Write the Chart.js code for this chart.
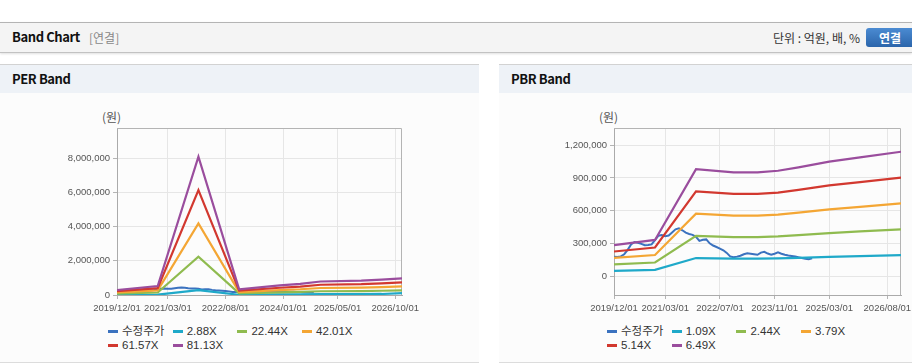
<!DOCTYPE html>
<html>
<head>
<meta charset="utf-8">
<script src="https://cdn.jsdelivr.net/npm/chart.js@4.4.1/dist/chart.umd.min.js"></script>
<style>
html, body { margin: 0; padding: 0; }
body { width: 912px; height: 364px; overflow: hidden; position: relative; background: #fff;
       font-family: "Liberation Sans", Arial, "Noto Sans CJK KR", sans-serif; color: #222; }
.topbar { position: absolute; left: 0; top: 22px; width: 912px; height: 29px; background: #f4f4f4;
          border-top: 1px solid #b4b4b4; border-bottom: 1px solid #c2c2c2; box-shadow: 0 1px 2px rgba(0,0,0,.12); }
.topbar .ttl { position: absolute; left: 12px; top: 6px; font: bold 13px/16px "Noto Sans CJK KR", sans-serif;
               letter-spacing: -0.4px; color: #111; }
.topbar .sub { position: absolute; left: 89px; top: 7px; font: 12px/15px "Noto Sans CJK KR", sans-serif; color: #888; }
.topbar .unit { position: absolute; right: 52px; top: 7px; font: 12px/15px "Noto Sans CJK KR", sans-serif; color: #333; }
.topbar .btn { position: absolute; left: 866px; top: 5px; width: 48px; height: 19px; border-radius: 3px;
               background: linear-gradient(#4b8bd2, #2b65ab); color: #fff; text-align: center;
               font: bold 12px/19px "Noto Sans CJK KR", sans-serif; }
.panel { position: absolute; top: 64px; width: 479px; height: 297px; background: #fcfcfc;
         border-top: 1px solid #d2d2d2; border-bottom: 1px solid #dcdcdc; }
.panel .head { height: 28px; background: #eef2f7; }
.panel .head span { position: absolute; left: 12px; top: 6px; font: bold 13px/16px "Noto Sans CJK KR", sans-serif;
                    letter-spacing: -0.4px; color: #111; }
.unitlbl { position: absolute; top: 110px; font: 12px/14px "Noto Sans CJK KR", sans-serif; color: #555; }
.box { position: absolute; top: 93px; width: 479px; height: 222px; }
.legend { position: absolute; top: 325px; height: 28px; font-size: 11.5px; color: #333; }
.legend .it { position: absolute; white-space: nowrap; line-height: 13px; }
.legend .mk { position: absolute; left: 0; top: 5px; width: 10px; height: 3px; }
.legend .tx { position: absolute; left: 14px; top: 0; }
</style>
</head>
<body>
<div class="topbar">
  <span class="ttl">Band Chart</span><span class="sub">[연결]</span>
  <span class="unit">단위 : 억원, 배, %</span>
  <span class="btn">연결</span>
</div>

<div class="panel" style="left:0"><div class="head"><span>PER Band</span></div></div>
<div class="panel" style="left:499px"><div class="head"><span>PBR Band</span></div></div>

<div class="unitlbl" style="left:102px">(원)</div>
<div class="unitlbl" style="left:599px">(원)</div>

<div class="box" style="left:0"><canvas id="perChart" width="479" height="222"></canvas></div>
<div class="box" style="left:499px"><canvas id="pbrChart" width="479" height="222"></canvas></div>

<div class="legend" id="perLegend" style="left:108px"></div>
<div class="legend" id="pbrLegend" style="left:607px"></div>

<script>
// months counted from 2019/12 (0) to 2026/12 (84)
const priceMonths = [0,1,2,3,4,5,6,7,8,9,10,11,12,13,14,15,16,17,18,19,20,21,22,23,24,25,26,27,28,29,
                     30,31,32,33,34,35,36,37,38,39,40,41,42,43,44,45,46,47,48,49,50,51,52,53,54,55,56,57,58];
const priceValues = [177000,175000,180000,200000,240000,290000,312000,305000,295000,282000,284000,290000,
                     330000,370000,376000,366000,372000,400000,428000,437000,420000,398000,386000,378000,
                     360000,322000,332000,336000,300000,280000,266000,252000,236000,212000,180000,172000,
                     178000,186000,200000,208000,205000,200000,195000,215000,222000,206000,196000,205000,
                     217000,205000,196000,188000,184000,179000,172000,166000,158000,155000,162000];

// PER band
const perBandMonths = [0, 12, 24, 36, 48, 54, 60, 72, 78, 84];
const per288  = [10000, 19000, 287000, 12000, 40000, 45000, 52000, 55000, 60000, 105000];
const per2244 = [81000, 145000, 2237000, 92000, 155000, 180000, 219000, 232000, 249000, 270000];
const per4201 = [151000, 272000, 4188000, 172000, 290000, 336000, 409000, 435000, 466000, 505000];
const per6157 = [222000, 399000, 6139000, 252000, 425000, 493000, 600000, 637000, 683000, 741000];
const per8113 = [292000, 526000, 8089000, 333000, 560000, 650000, 790000, 840000, 900000, 976000];
const perNames = ['수정주가', '2.88X', '22.44X', '42.01X', '61.57X', '81.13X'];
const perXTicks = [0, 15, 32, 49, 65, 82];
const perXLabels = ['2019/12/01', '2021/03/01', '2022/08/01', '2024/01/01', '2025/05/01', '2026/10/01'];
const perYTicks = [0, 2000000, 4000000, 6000000, 8000000];

// PBR band
const pbrBandMonths = [0, 12, 24, 35, 42, 48, 54, 63, 72, 84];
const pbr109 = [48000, 56000, 165000, 160000, 160000, 162000, 167000, 176000, 183000, 191000];
const pbr244 = [107000, 124000, 368000, 357000, 357000, 363000, 375000, 394000, 409000, 428000];
const pbr379 = [166000, 193000, 572000, 555000, 555000, 564000, 582000, 612000, 635000, 666000];
const pbr514 = [225000, 262000, 776000, 753000, 753000, 765000, 790000, 831000, 861000, 903000];
const pbr649 = [284000, 331000, 980000, 951000, 951000, 966000, 997000, 1049000, 1088000, 1140000];
const pbrNames = ['수정주가', '1.09X', '2.44X', '3.79X', '5.14X', '6.49X'];
const pbrXTicks = [0, 15, 31, 47, 63, 80];
const pbrXLabels = ['2019/12/01', '2021/03/01', '2022/07/01', '2023/11/01', '2025/03/01', '2026/08/01'];
const pbrYTicks = [0, 300000, 600000, 900000, 1200000];

const colors = ['#3b72bf', '#1fa9c9', '#8fbb4f', '#f4a634', '#d2382f', '#9a4d9d'];

function pts(months, vals) {
  return vals.map((v, i) => ({ x: months[i], y: v }));
}

// top and right edge of the plot box
const frame = {
  id: 'frame',
  beforeDatasetsDraw(chart) {
    const a = chart.chartArea, c = chart.ctx;
    c.save();
    c.strokeStyle = '#b4b4b4';
    c.lineWidth = 1;
    c.beginPath();
    c.moveTo(a.left, a.top + 0.5);
    c.lineTo(a.right - 0.5, a.top + 0.5);
    c.lineTo(a.right - 0.5, a.bottom);
    c.stroke();
    c.restore();
  }
};

function makeChart(id, names, series, yMin, yMax, yTicks, xTicks, xLabels, yWidth) {
  const datasets = series.map((s, i) => ({
    label: names[i],
    data: s,
    borderColor: colors[i],
    backgroundColor: colors[i],
    borderWidth: i === 0 ? 2 : 2.2,
    pointRadius: 0,
    tension: 0,
    order: series.length - i   // price underneath, last band on top
  }));
  return new Chart(document.getElementById(id), {
    type: 'line',
    data: { datasets: datasets },
    plugins: [frame],
    options: {
      responsive: false,
      animation: false,
      layout: { padding: { top: 35, right: 77, bottom: 0, left: 0 } },
      plugins: { legend: { display: false }, tooltip: { enabled: false } },
      scales: {
        x: {
          type: 'linear', min: 0, max: 84,
          afterBuildTicks: sc => { sc.ticks = xTicks.map(v => ({ value: v })); },
          afterFit: sc => { sc.height = 20; },
          ticks: { color: '#555', font: { size: 9.5, family: 'Liberation Sans' }, padding: 4, maxRotation: 0,
                   callback: v => xLabels[xTicks.indexOf(v)] },
          grid: { color: '#e6e6e6', tickColor: '#b4b4b4', tickLength: 4 },
          border: { color: '#aaaaaa' }
        },
        y: {
          min: yMin, max: yMax,
          afterBuildTicks: sc => { sc.ticks = yTicks.map(v => ({ value: v })); },
          afterFit: sc => { sc.width = yWidth; },
          ticks: { color: '#555', font: { size: 9.5, family: 'Liberation Sans' }, padding: 3,
                   callback: v => v.toLocaleString('en-US') },
          grid: { color: '#e6e6e6', tickColor: '#b4b4b4', tickLength: 4 },
          border: { color: '#aaaaaa' }
        }
      }
    }
  });
}

makeChart('perChart', perNames, [
  pts(priceMonths, priceValues),
  pts(perBandMonths, per288),
  pts(perBandMonths, per2244),
  pts(perBandMonths, per4201),
  pts(perBandMonths, per6157),
  pts(perBandMonths, per8113)
], 0, 9770000, perYTicks, perXTicks, perXLabels, 117);

makeChart('pbrChart', pbrNames, [
  pts(priceMonths, priceValues),
  pts(pbrBandMonths, pbr109),
  pts(pbrBandMonths, pbr244),
  pts(pbrBandMonths, pbr379),
  pts(pbrBandMonths, pbr514),
  pts(pbrBandMonths, pbr649)
], -174000, 1358000, pbrYTicks, pbrXTicks, pbrXLabels, 115);

function legend(elId, names) {
  const el = document.getElementById(elId);
  names.forEach((n, i) => {
    const it = document.createElement('div');
    it.className = 'it';
    it.style.left = (i % 4) * 64.7 + 'px';
    it.style.top = Math.floor(i / 4) * 13.5 + 'px';
    it.innerHTML = '<span class="mk" style="background:' + colors[i] + '"></span><span class="tx"></span>';
    it.querySelector('.tx').textContent = n;
    el.appendChild(it);
  });
}
legend('perLegend', perNames);
legend('pbrLegend', pbrNames);
</script>
</body>
</html>
